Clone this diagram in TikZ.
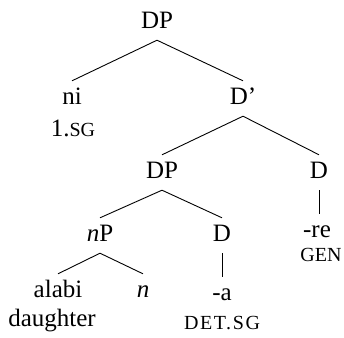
\documentclass[tikz,border=0pt]{standalone}
\usepackage{fontspec}
\setmainfont{Liberation Serif}
\newcommand{\smc}[1]{{\fontsize{20}{24}\selectfont #1}}

\begin{document}
\begin{tikzpicture}
[x=1pt, y=1pt,
 cat/.style = {anchor=base, inner xsep=0pt, inner ysep=6pt, text height=17pt, text depth=6pt, font=\fontsize{25}{30}\selectfont},
 gloss/.style = {anchor=base, inner sep=0pt, font=\fontsize{25}{30}\selectfont},
 branch/.style = {line width=0.9pt}
 ]
\useasboundingbox (0,0) rectangle (344,-337);
% nodes
\node [cat] (dp) at (157,-28) {DP};
\node [cat] (ni) at (72,-104) {ni};
\node [gloss] (sg) at (73,-136) {1.\smc{SG}};
\node [cat] (dbar) at (243,-104) {D'};
\node [cat] (dpb) at (162,-178) {DP};
\node [cat] (dgen) at (319,-178) {D};
\node [cat] (re) at (317,-237) {-re};
\node [gloss] (gen) at (321,-261) {\smc{GEN}};
\node [cat] (np) at (100,-241) {\textit{n}P};
\node [cat] (ddet) at (222,-241) {D};
\node [cat] (a) at (222,-300) {-a};
\node [gloss] (detsg) at (222,-329) {\smc{\addfontfeature{LetterSpace=8}DET.SG}};
\node [cat] (alabi) at (58,-297) {alabi};
\node [gloss] (dau) at (52,-326) {daughter};
\node [cat] (n) at (143,-297) {\textit{n}};
% branches
\draw [branch] (dp.south) -- (ni.north);
\draw [branch] (dp.south) -- (dbar.north);
\draw [branch] (dbar.south) -- (dpb.north);
\draw [branch] (dbar.south) -- (dgen.north);
\draw [branch] (dgen.south) -- (dgen.south |- re.north);
\draw [branch] (dpb.south) -- (np.north);
\draw [branch] (dpb.south) -- (ddet.north);
\draw [branch] (ddet.south) -- (ddet.south |- a.north);
\draw [branch] (np.south) -- (alabi.north);
\draw [branch] (np.south) -- (n.north);
\end{tikzpicture}
\end{document}
